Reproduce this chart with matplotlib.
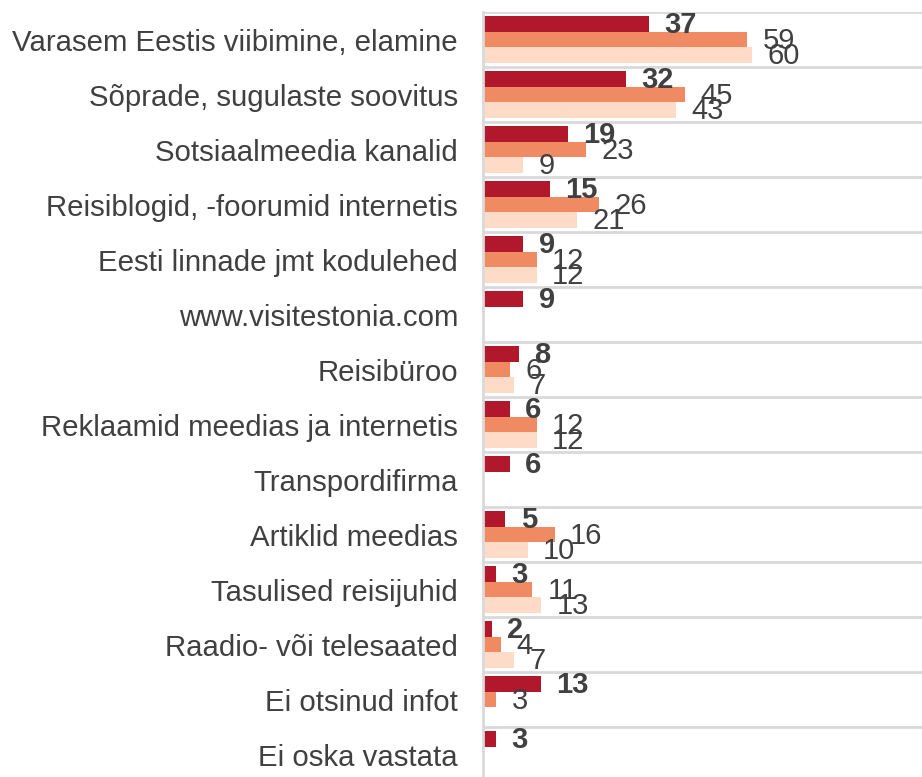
import matplotlib.pyplot as plt
import numpy as np

plt.rcParams['font.family'] = ['Liberation Sans', 'DejaVu Sans']

categories = [
    'Varasem Eestis viibimine, elamine',
    'Sõprade, sugulaste soovitus',
    'Sotsiaalmeedia kanalid',
    'Reisiblogid, -foorumid internetis',
    'Eesti linnade jmt kodulehed',
    'www.visitestonia.com',
    'Reisibüroo',
    'Reklaamid meedias ja internetis',
    'Transpordifirma',
    'Artiklid meedias',
    'Tasulised reisijuhid',
    'Raadio- või telesaated',
    'Ei otsinud infot',
    'Ei oska vastata',
]
series_1 = [37, 32, 19, 15, 9, 9, 8, 6, 6, 5, 3, 2, 13, 3]
series_2 = [59, 45, 23, 26, 12, None, 6, 12, None, 16, 11, 4, 3, None]
series_3 = [60, 43, 9, 21, 12, None, 7, 12, None, 10, 13, 7, None, None]

colors = ['#B2182B', '#EF8A62', '#FDDBC7']
text_color = '#404040'
grid_color = '#D9D9D9'

fig = plt.figure(figsize=(9.22, 7.77), dpi=100)
ax = fig.add_axes([483 / 922, -5 / 777, 448 / 922, 770 / 777])

y = np.arange(len(categories))
h = 0.28
for k, (vals, col) in enumerate(zip([series_1, series_2, series_3], colors)):
    pos = y + (k - 1) * h
    for yi, v in zip(pos, vals):
        if v is None:
            continue
        ax.barh(yi, v, height=h, color=col, zorder=2)
        ax.annotate(str(v), (v, yi), xytext=(11, -1), textcoords='offset points',
                    ha='left', va='center', fontsize=21, color=text_color,
                    fontweight='bold' if k == 0 else 'normal', zorder=3)

ax.set_xlim(0, 100)
ax.set_ylim(len(categories) - 0.5, -0.5)
ax.set_yticks(y)
ax.set_yticklabels(categories, fontsize=21.2, color=text_color)
ax.tick_params(axis='y', length=0, pad=18)
ax.set_xticks([])

# row separators
for b in np.arange(-0.5, len(categories), 1):
    ax.axhline(b, color=grid_color, lw=2, zorder=1)

for s in ['top', 'right', 'bottom']:
    ax.spines[s].set_visible(False)
ax.spines['left'].set_color(grid_color)
ax.spines['left'].set_linewidth(2)

fig.savefig('out.png', dpi=100)
